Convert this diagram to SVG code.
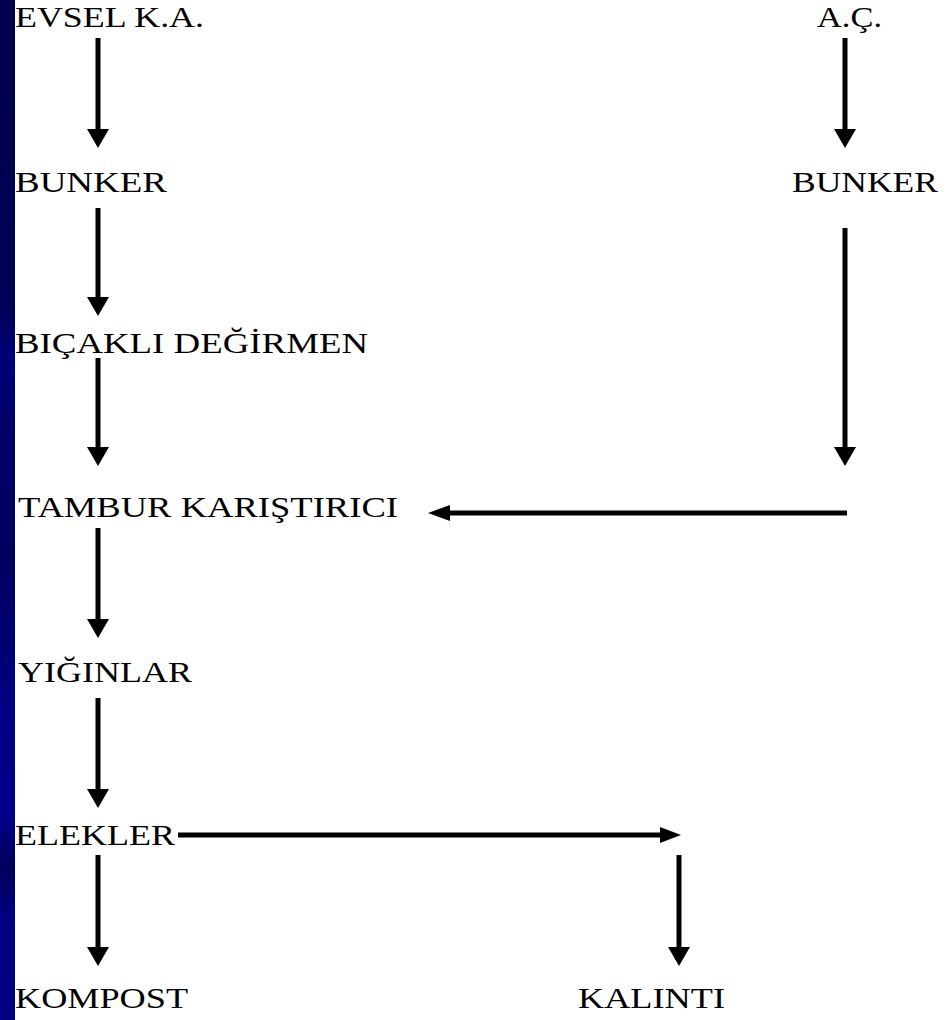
<svg xmlns="http://www.w3.org/2000/svg" width="946" height="1020" viewBox="0 0 946 1020">
<defs>
<linearGradient id="strip" x1="0" y1="0" x2="0" y2="1">
<stop offset="0" stop-color="#00004c"/>
<stop offset="0.3" stop-color="#000056"/>
<stop offset="0.35" stop-color="#00007a"/>
<stop offset="0.42" stop-color="#000068"/>
<stop offset="0.55" stop-color="#000060"/>
<stop offset="0.7" stop-color="#000084"/>
<stop offset="0.8" stop-color="#00008a"/>
<stop offset="0.85" stop-color="#00005c"/>
<stop offset="0.9" stop-color="#000082"/>
<stop offset="1" stop-color="#000080"/>
</linearGradient>
</defs>
<style>
text{font-family:"Liberation Serif","Times New Roman",serif;font-size:30px;fill:#000;}
.sh{stroke:#000;stroke-width:5;fill:none;}
.hd{fill:#000;}
</style>
<rect x="0" y="0" width="946" height="1020" fill="#fff"/>
<rect x="0" y="0" width="15" height="1020" fill="url(#strip)"/>
<g id="n-evsel"><text x="15" y="27" textLength="189" lengthAdjust="spacingAndGlyphs">EVSEL K.A.</text></g>
<g id="n-ac"><text x="817" y="27" textLength="65" lengthAdjust="spacingAndGlyphs">A.Ç.</text></g>
<g id="n-bunker1"><text x="15" y="192" textLength="152" lengthAdjust="spacingAndGlyphs">BUNKER</text></g>
<g id="n-bunker2"><text x="792" y="192" textLength="146" lengthAdjust="spacingAndGlyphs">BUNKER</text></g>
<g id="n-bicakli"><text x="15" y="353" textLength="353" lengthAdjust="spacingAndGlyphs">BIÇAKLI DEĞİRMEN</text></g>
<g id="n-tambur"><text x="18" y="517" textLength="380" lengthAdjust="spacingAndGlyphs">TAMBUR KARIŞTIRICI</text></g>
<g id="n-yiginlar"><text x="18" y="682" textLength="174" lengthAdjust="spacingAndGlyphs">YIĞINLAR</text></g>
<g id="n-elekler"><text x="15" y="845" textLength="160" lengthAdjust="spacingAndGlyphs">ELEKLER</text></g>
<g id="n-kompost"><text x="15" y="1008" textLength="173" lengthAdjust="spacingAndGlyphs">KOMPOST</text></g>
<g id="n-kalinti"><text x="578" y="1008" textLength="147" lengthAdjust="spacingAndGlyphs">KALINTI</text></g>
<g id="connectors">
<line class="sh" x1="98" y1="38" x2="98" y2="132"/><polygon class="hd" points="87,129 109,129 98,148"/>
<line class="sh" x1="98" y1="208" x2="98" y2="300"/><polygon class="hd" points="87,297 109,297 98,316"/>
<line class="sh" x1="98" y1="358" x2="98" y2="450"/><polygon class="hd" points="87,447 109,447 98,466"/>
<line class="sh" x1="98" y1="528" x2="98" y2="622"/><polygon class="hd" points="87,619 109,619 98,638"/>
<line class="sh" x1="98" y1="698" x2="98" y2="792"/><polygon class="hd" points="87,789 109,789 98,808"/>
<line class="sh" x1="98" y1="855" x2="98" y2="950"/><polygon class="hd" points="87,947 109,947 98,966"/>
<line class="sh" x1="845" y1="38" x2="845" y2="132"/><polygon class="hd" points="834,129 856,129 845,148"/>
<line class="sh" x1="845" y1="228" x2="845" y2="450"/><polygon class="hd" points="834,447 856,447 845,466"/>
<line class="sh" x1="847" y1="513" x2="446" y2="513"/><polygon class="hd" points="450,505 450,521 428,513"/>
<line class="sh" x1="178" y1="835" x2="662" y2="835"/><polygon class="hd" points="660,827 660,843 681,835"/>
<line class="sh" x1="679" y1="855" x2="679" y2="950"/><polygon class="hd" points="668,947 690,947 679,966"/>
</g>
</svg>
